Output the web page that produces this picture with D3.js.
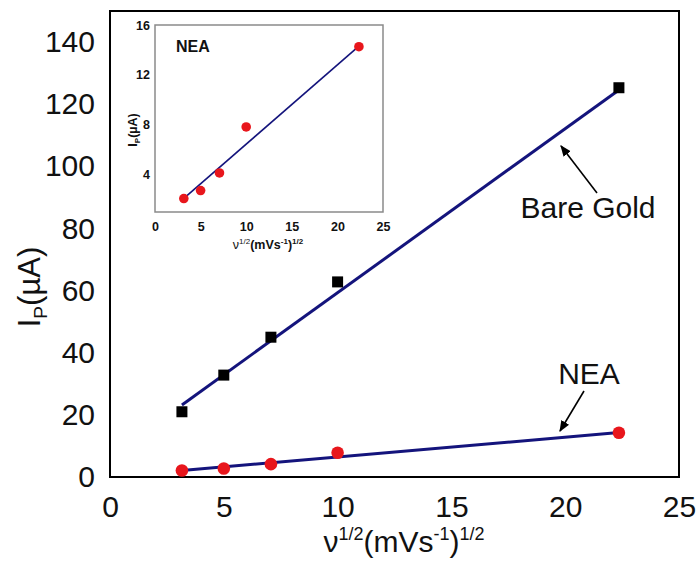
<!DOCTYPE html>
<html>
<head>
<meta charset="utf-8">
<script src="https://cdn.jsdelivr.net/npm/d3@7"></script>
<style>
  html, body { margin: 0; padding: 0; background: #fff; }
  svg { display: block; font-family: Arial, "Liberation Sans", sans-serif; }
</style>
</head>
<body>
<svg id="chart" width="699" height="562"></svg>
<script>
// Square root of scan rate, (mV/s)^1/2
const sqrtScanRate = [3.16, 5, 7.07, 10, 22.36];
// Peak currents, µA
const bareGold = [21.0, 32.8, 45.0, 62.8, 125.3];
const nea = [2.08, 2.72, 4.13, 7.82, 14.26];
// Linear fits: [x, y] at the ends of each fitted line
const bareGoldFit = [[3.16, 23.2], [22.36, 124.6]];
const neaFit = [[3.16, 2.1], [22.36, 14.3]];
// Axis ticks
const xTicks = [0, 5, 10, 15, 20, 25];
const yTicks = [0, 20, 40, 60, 80, 100, 120, 140];
const insetYTicks = [4, 8, 12, 16];

const svg = d3.select("#chart");
const fitColor = "#14147c";
const dotColor = "#e8161c";

// ---------- main panel ----------
const W = { l: 110, r: 679, t: 11, b: 477 };
const x = d3.scaleLinear().domain([0, 25]).range([W.l, W.r]);
const y = d3.scaleLinear().domain([0, 150]).range([W.b, W.t]);

const xAxis = svg.append("g").attr("transform", `translate(0,${W.b})`)
  .call(d3.axisBottom(x).tickValues(xTicks).tickSize(0).tickPadding(19));
const yAxis = svg.append("g").attr("transform", `translate(${W.l},0)`)
  .call(d3.axisLeft(y).tickValues(yTicks).tickSize(0).tickPadding(15));
[xAxis, yAxis].forEach(g => {
  g.select(".domain").remove();
  g.selectAll("text").attr("font-size", 30).attr("font-family", "Arial, Liberation Sans, sans-serif").attr("fill", "#111");
});

svg.append("rect")
  .attr("x", W.l).attr("y", W.t).attr("width", W.r - W.l).attr("height", W.b - W.t)
  .attr("fill", "none").attr("stroke", "#000").attr("stroke-width", 2);

const line = (sx, sy) => d3.line().x(d => sx(d[0])).y(d => sy(d[1]));

svg.append("path").datum(bareGoldFit).attr("d", line(x, y))
  .attr("fill", "none").attr("stroke", fitColor).attr("stroke-width", 3);
svg.append("path").datum(neaFit).attr("d", line(x, y))
  .attr("fill", "none").attr("stroke", fitColor).attr("stroke-width", 3);

const sq = 11;
svg.append("g").selectAll("rect").data(sqrtScanRate).join("rect")
  .attr("x", (d) => x(d) - sq / 2).attr("y", (d, i) => y(bareGold[i]) - sq / 2)
  .attr("width", sq).attr("height", sq).attr("fill", "#000");
svg.append("g").selectAll("circle").data(sqrtScanRate).join("circle")
  .attr("cx", d => x(d)).attr("cy", (d, i) => y(nea[i])).attr("r", 6.3)
  .attr("fill", dotColor);

// axis titles
const xt = svg.append("text").attr("x", 404).attr("y", 552)
  .attr("text-anchor", "middle").attr("font-size", 30).attr("fill", "#111");
xt.append("tspan").text("ν");
xt.append("tspan").attr("font-size", 18).attr("dy", -12).text("1/2");
xt.append("tspan").attr("dy", 12).text("(mVs");
xt.append("tspan").attr("font-size", 18).attr("dy", -12).text("-1");
xt.append("tspan").attr("dy", 12).text(")");
xt.append("tspan").attr("font-size", 18).attr("dy", -12).text("1/2");

const yt = svg.append("text").attr("transform", "translate(40,287) rotate(-90)")
  .attr("text-anchor", "middle").attr("font-size", 31).attr("fill", "#111");
yt.append("tspan").text("I");
yt.append("tspan").attr("font-size", 19).attr("dy", 7).text("P");
yt.append("tspan").attr("dy", -7).text("(µA)");

// annotations
const defs = svg.append("defs");
defs.append("marker").attr("id", "head").attr("viewBox", "0 0 10 10")
  .attr("refX", 9).attr("refY", 5).attr("markerWidth", 7).attr("markerHeight", 7)
  .attr("orient", "auto-start-reverse")
  .append("path").attr("d", "M0,1 L10,5 L0,9 Z").attr("fill", "#000");

svg.append("text").attr("x", 588).attr("y", 218).attr("text-anchor", "middle")
  .attr("font-size", 30).attr("fill", "#111").text("Bare Gold");
svg.append("line").attr("x1", 597).attr("y1", 193).attr("x2", 561).attr("y2", 146)
  .attr("stroke", "#000").attr("stroke-width", 1.6).attr("marker-end", "url(#head)");

svg.append("text").attr("x", 589).attr("y", 384).attr("text-anchor", "middle")
  .attr("font-size", 30).attr("fill", "#111").text("NEA");
svg.append("line").attr("x1", 584).attr("y1", 391).attr("x2", 560).attr("y2", 431)
  .attr("stroke", "#000").attr("stroke-width", 1.6).attr("marker-end", "url(#head)");

// ---------- inset: NEA only ----------
const I = { l: 155, r: 383, t: 25, b: 212 };
const ix = d3.scaleLinear().domain([0, 25]).range([I.l, I.r]);
const iy = d3.scaleLinear().domain([1, 16]).range([I.b, I.t]);

svg.append("rect")
  .attr("x", I.l).attr("y", I.t).attr("width", I.r - I.l).attr("height", I.b - I.t)
  .attr("fill", "#fff").attr("stroke", "#8a8a8a").attr("stroke-width", 1.5);

const ixAxis = svg.append("g").attr("transform", `translate(0,${I.b})`)
  .call(d3.axisBottom(ix).tickValues(xTicks).tickSize(0).tickPadding(10));
const iyAxis = svg.append("g").attr("transform", `translate(${I.l},0)`)
  .call(d3.axisLeft(iy).tickValues(insetYTicks).tickSize(0).tickPadding(5));
[ixAxis, iyAxis].forEach(g => {
  g.select(".domain").remove();
  g.selectAll("text").attr("font-size", 12.5).attr("font-weight", "bold")
    .attr("font-family", "Arial, Liberation Sans, sans-serif").attr("fill", "#111");
});

svg.append("path").datum(neaFit).attr("d", line(ix, iy))
  .attr("fill", "none").attr("stroke", fitColor).attr("stroke-width", 1.6);
svg.append("g").selectAll("circle").data(sqrtScanRate).join("circle")
  .attr("cx", d => ix(d)).attr("cy", (d, i) => iy(nea[i])).attr("r", 4.8)
  .attr("fill", dotColor);

svg.append("text").attr("x", 176).attr("y", 52).attr("font-size", 16)
  .attr("font-weight", "bold").attr("fill", "#111").text("NEA");

const ixt = svg.append("text").attr("x", 268).attr("y", 249)
  .attr("text-anchor", "middle").attr("font-size", 12.5).attr("font-weight", "bold").attr("fill", "#111");
ixt.append("tspan").attr("font-weight", "normal").text("ν");
ixt.append("tspan").attr("font-size", 8).attr("font-weight", "normal").attr("dy", -5).text("1/2");
ixt.append("tspan").attr("dy", 5).text("(mVs");
ixt.append("tspan").attr("font-size", 8).attr("dy", -5).text("-1");
ixt.append("tspan").attr("dy", 5).text(")");
ixt.append("tspan").attr("font-size", 8).attr("dy", -5).text("1/2");

const iyt = svg.append("text").attr("transform", "translate(137,130) rotate(-90)")
  .attr("text-anchor", "middle").attr("font-size", 12.5).attr("font-weight", "bold").attr("fill", "#111");
iyt.append("tspan").text("I");
iyt.append("tspan").attr("font-size", 8).attr("dy", 3).text("P");
iyt.append("tspan").attr("dy", -3).text("(µA)");
</script>
</body>
</html>
